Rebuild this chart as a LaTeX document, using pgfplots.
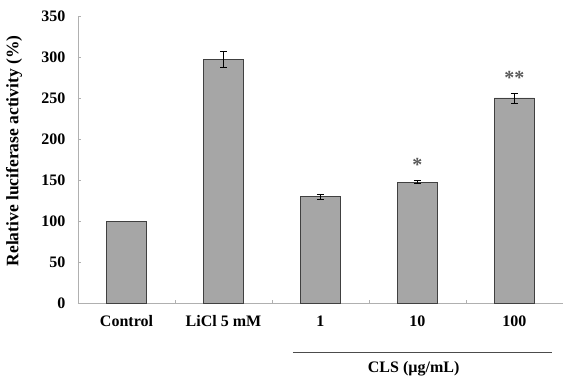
\documentclass[border=0pt]{standalone}
\usepackage{pgfplots}
\pgfplotsset{compat=1.18}
\usepackage{fontspec}
\setmainfont{Liberation Serif}
\definecolor{barfill}{HTML}{A6A6A6}
\definecolor{baredge}{HTML}{404040}
\definecolor{axgray}{HTML}{B0B0B0}
\begin{document}
\begin{tikzpicture}
\begin{axis}[
  scale only axis,
  width=485pt, height=287pt,
  xmin=-0.5, xmax=4.5,
  ymin=0, ymax=350,
  ytick={0,50,...,350},
  xtick={0,1,2,3,4},
  xticklabels={Control,LiCl 5 mM,1,10,100},
  minor xtick={0.5,1.5,2.5,3.5},
  axis x line*=bottom,
  axis y line*=left,
  axis line style={axgray, line width=0.8pt},
  major x tick style={draw=none},
  minor tick length=3pt,
  minor x tick style={axgray},
  major y tick style={axgray},
  major tick length=3pt,
  tick align=inside,
  ticklabel style={font=\bfseries\fontsize{16}{18}\selectfont},
  yticklabel style={xshift=-9pt},
  xticklabel style={yshift=-9pt},
  /pgf/number format/assume math mode=true,
  ylabel={\bfseries Relative luciferase activity (\%)},
  ylabel style={font=\bfseries\fontsize{17.5}{19}\selectfont, anchor=center,
    at={([xshift=-64pt]axis description cs:0,0.53)}},
  clip=false,
]
\coordinate (O) at (rel axis cs:0,0);
\addplot[ybar, bar width=40pt, fill=barfill, draw=baredge, line width=0.8pt]
coordinates {(0,100)};
\addplot[ybar, bar width=40pt, fill=barfill, draw=baredge, line width=0.8pt,
  error bars/.cd, y dir=both, y explicit,
  error bar style={black, line width=0.7pt},
  error mark options={rotate=90, mark size=3.5pt, black, line width=0.7pt}]
coordinates {
  (1,297) +- (0,10)
  (2,130) +- (0,3)
  (3,147.5) +- (0,1.5)
  (4,250) +- (0,6)
};
\node[text=gray!70!black, font=\bfseries\fontsize{20}{20}\selectfont] at (axis cs:3,168) {*};
\node[text=gray!70!black, font=\bfseries\fontsize{20}{20}\selectfont] at (axis cs:4,275) {**};
\draw[black!70, line width=0.8pt] ([yshift=-49pt]axis cs:1.716,0) -- ([yshift=-49pt]axis cs:4.39,0);
\node[font=\bfseries\fontsize{16}{18}\selectfont, anchor=center] at ([yshift=-66pt]axis cs:2.96,0) {CLS (µg/mL)};
\end{axis}
\pgfresetboundingbox
\path ([xshift=-78pt,yshift=-79pt]O) rectangle ([xshift=485pt,yshift=303pt]O);
\end{tikzpicture}
\end{document}
